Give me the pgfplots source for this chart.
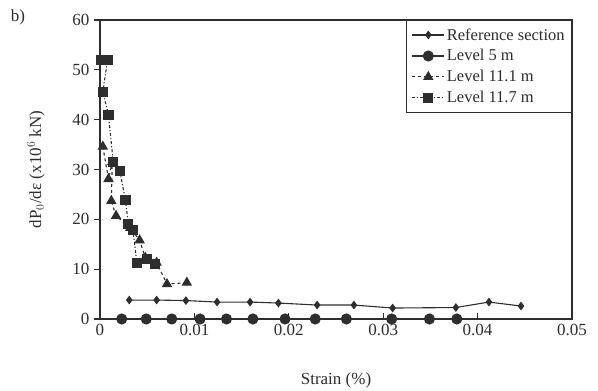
\documentclass[border=0pt]{standalone}
\usepackage{pgfplots}
\pgfplotsset{compat=1.18}
\usepackage{fontspec}
\setmainfont{Liberation Serif}
\definecolor{ink}{gray}{0.18}
\pgfplotstableread{
x y
0.0031 3.8
0.0060 3.8
0.0091 3.7
0.0124 3.4
0.0159 3.4
0.0189 3.2
0.0230 2.8
0.0269 2.8
0.0310 2.2
0.0377 2.3
0.0412 3.4
0.0446 2.6
}\refsec
\pgfplotstableread{
x y
0.0023 0
0.0049 0
0.0076 0
0.0106 0
0.0134 0
0.0162 0
0.0196 0
0.0228 0
0.0261 0
0.0309 0
0.0349 0
0.0378 0
}\lvlfive
\pgfplotstableread{
x y
0.0003 34.6
0.0009 28.1
0.0013 31.5
0.0012 23.7
0.0017 20.7
0.0032 18.3
0.0042 15.8
0.0048 12.3
0.0060 11.3
0.0071 7.0
0.0092 7.3
}\lvlelevenone
\pgfplotstableread{
x y
0.0001 52.0
0.0008 52.0
0.0003 45.5
0.0009 41.0
0.0014 31.5
0.0021 29.7
0.0027 23.8
0.0030 19.0
0.0035 17.8
0.0039 11.3
0.0050 12.0
0.0058 11.0
}\lvlelevenseven
\pgfplotsset{common/.style={
  scale only axis, width=472pt, height=299pt,
  xmin=0, xmax=0.05, ymin=0, ymax=60,
  tick pos=left,
  major tick length=6pt,
  every tick/.style={line width=1.1pt, ink},
  tick label style={font=\fontsize{17}{19}\selectfont, text=ink},
  /pgf/number format/assume math mode=true,
  scaled x ticks=false,
}}
\begin{document}
\begin{tikzpicture}
\useasboundingbox (-100pt,-72pt) rectangle (498pt,319pt);
\begin{axis}[common,
  xtick={0,0.01,0.02,0.03,0.04,0.05},
  xticklabels={0,0.01,0.02,0.03,0.04,0.05},
  ytick=\empty,
  tick align=inside,
  axis line style={draw=none},
  xticklabel style={yshift=-2pt},
]
\end{axis}
\begin{axis}[common,
  xtick=\empty,
  ytick={0,10,20,30,40,50,60},
  tick align=outside,
  yticklabel style={xshift=-1pt},
  axis line style={line width=1.3pt, ink},
  clip=false,
  xlabel={Strain (\%)},
  ylabel={dP$_0$/d\symbol{"03B5} (x10$^6$ kN)},
  label style={font=\fontsize{17}{19}\selectfont, text=ink},
  xlabel style={at={(0.5,0)}, anchor=base, yshift=-66pt},
  ylabel style={at={(0,0.5)}, anchor=center, yshift=64pt},
  legend style={at={(1,1)}, anchor=north east, draw=ink, line width=0.8pt,
    font=\fontsize{16.5}{18}\selectfont, text=ink, row sep=4pt,
    inner xsep=5pt, inner ysep=6pt},
  legend cell align=left,
  legend image code/.code={
    \draw[mark repeat=2,mark phase=2,#1]
      plot coordinates {(0pt,0pt) (16pt,0pt) (32pt,0pt)};},
]
\addplot[ink, line width=1.1pt, mark=diamond*, mark size=3.5pt] table {\refsec};
\addlegendentry{Reference section}
\addplot[ink, line width=1.1pt, mark=*, mark size=5pt] table {\lvlfive};
\addlegendentry{Level 5 m}
\addplot[ink, line width=1.1pt, dashed, mark=triangle*, mark size=5pt, mark options={solid}] table {\lvlelevenone};
\addlegendentry{Level 11.1 m}
\addplot[ink, line width=1.1pt, dash dot, mark=square*, mark size=4.5pt, mark options={solid}] table {\lvlelevenseven};
\addlegendentry{Level 11.7 m}
\end{axis}
\node[font=\fontsize{17}{19}\selectfont, text=ink] at (-82pt,302pt) {b)};
\end{tikzpicture}
\end{document}
